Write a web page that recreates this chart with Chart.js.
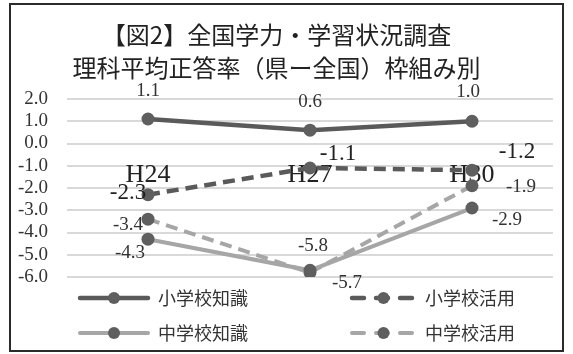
<!DOCTYPE html>
<html lang="ja">
<head>
<meta charset="utf-8">
<title>理科平均正答率（県ー全国）枠組み別</title>
<script src="https://cdn.jsdelivr.net/npm/chart.js@4/dist/chart.umd.min.js"></script>
<style>
  html, body { margin: 0; padding: 0; background: #fff; }
  #wrap { position: relative; width: 573px; height: 354px; }
  #frame {
    position: absolute; left: 9px; top: 3px; width: 555px; height: 349px;
    border: 2px solid #2b2b2b; box-sizing: border-box;
  }
  #chart { position: absolute; left: 0; top: 0; }
</style>
</head>
<body>
<div id="wrap">
  <div id="frame"></div>
  <canvas id="chart" width="573" height="354"></canvas>
</div>
<script>
// survey years
const years = ['H24', 'H27', 'H30'];

// prefecture minus national average, in points
const elemKnowledge = [1.1, 0.6, 1.0];
const elemApplied = [-2.3, -1.1, -1.2];
const juniorKnowledge = [-4.3, -5.7, -2.9];
const juniorApplied = [-3.4, -5.8, -1.9];

const yMin = -6;
const yMax = 2;

const DARK = '#5a5a5a';
const LIGHT = '#a6a6a6';
const MARKER = '#5f5f5f';
const SERIF = '"Liberation Serif", "DejaVu Serif", serif';
const JP = '"Noto Sans CJK JP", "Noto Sans", sans-serif';

// value labels: font size and offset from the point for each year
const valueLabelStyle = [
  { size: 19, color: '#333', offsets: [[0, -28], [0, -28], [-4, -29]] },
  { size: 23, color: '#222', offsets: [[-20, -2], [28, -14], [45, -18]] },
  { size: 19, color: '#333', offsets: [[-18, 14], [37, 13], [35, 12]] },
  { size: 19, color: '#333', offsets: [[-20, 6], [3, -27], [49, 1]] }
];

const valueLabels = {
  id: 'valueLabels',
  afterDatasetsDraw(chart) {
    const ctx = chart.ctx;
    ctx.save();
    ctx.textAlign = 'center';
    ctx.textBaseline = 'middle';
    chart.data.datasets.forEach((ds, i) => {
      const st = valueLabelStyle[i];
      ctx.font = st.size + 'px ' + SERIF;
      ctx.fillStyle = st.color;
      chart.getDatasetMeta(i).data.forEach((pt, j) => {
        const [dx, dy] = st.offsets[j];
        ctx.fillText(ds.data[j].toFixed(1), pt.x + dx, pt.y + dy);
      });
    });
    ctx.restore();
  }
};

// two-column legend with a line sample and a marker for each series
const gridLegend = {
  id: 'gridLegend',
  afterDraw(chart) {
    const ctx = chart.ctx;
    const cols = [{ x: 78, w: 72 }, { x: 350, w: 67 }];
    const rows = [298, 333];
    ctx.save();
    chart.data.datasets.forEach((ds, i) => {
      const c = cols[i % 2];
      const y = rows[Math.floor(i / 2)];
      ctx.strokeStyle = ds.borderColor;
      ctx.lineWidth = ds.borderWidth;
      ctx.lineCap = 'round';
      ctx.setLineDash(ds.borderDash.length ? [12, 12] : []);
      ctx.beginPath();
      ctx.moveTo(c.x + 2, y);
      ctx.lineTo(c.x + c.w - 2, y);
      ctx.stroke();
      ctx.setLineDash([]);
      ctx.fillStyle = ds.pointBackgroundColor;
      ctx.beginPath();
      ctx.arc(c.x + c.w / 2, y, 6, 0, Math.PI * 2);
      ctx.fill();
      ctx.font = '18px ' + JP;
      ctx.fillStyle = '#333';
      ctx.textAlign = 'left';
      ctx.textBaseline = 'middle';
      ctx.fillText(ds.label, c.x + c.w + 8, y);
    });
    ctx.restore();
  }
};

function series(label, data, color, dashed) {
  return {
    label,
    data,
    borderColor: color,
    borderWidth: color === DARK ? 4.5 : 4,
    borderDash: dashed ? [12, 7] : [],
    tension: 0,
    pointRadius: 6.5,
    pointBackgroundColor: MARKER,
    pointBorderColor: MARKER,
    pointBorderWidth: 0
  };
}

new Chart(document.getElementById('chart'), {
  type: 'line',
  data: {
    labels: years,
    datasets: [
      series('小学校知識', elemKnowledge, DARK, false),
      series('小学校活用', elemApplied, DARK, true),
      series('中学校知識', juniorKnowledge, LIGHT, false),
      series('中学校活用', juniorApplied, LIGHT, true)
    ]
  },
  options: {
    responsive: false,
    animation: false,
    layout: { padding: { left: 0, right: 20, top: 0, bottom: 77 } },
    plugins: {
      legend: { display: false },
      tooltip: { enabled: false },
      title: {
        display: true,
        text: ['【図2】全国学力・学習状況調査', '理科平均正答率（県ー全国）枠組み別'],
        color: '#222',
        font: { family: JP, size: 24, weight: 'normal', lineHeight: 1.375 },
        padding: { top: 18.5, bottom: 14.5 }
      }
    },
    scales: {
      x: {
        position: { y: 0 },
        offset: true,
        z: 1,
        grid: { display: false, drawTicks: false },
        border: { display: false },
        ticks: { color: '#222', padding: 16, font: { family: SERIF, size: 26 } }
      },
      y: {
        min: yMin,
        max: yMax,
        afterFit(scale) { scale.width = 67; },
        grid: { color: '#d9d9d9', lineWidth: 2, drawTicks: false },
        border: { display: false },
        ticks: {
          stepSize: 1,
          autoSkip: false,
          padding: 19,
          color: '#333',
          font: { family: SERIF, size: 19 },
          callback: v => v.toFixed(1)
        }
      }
    }
  },
  plugins: [valueLabels, gridLegend]
});
</script>
</body>
</html>
